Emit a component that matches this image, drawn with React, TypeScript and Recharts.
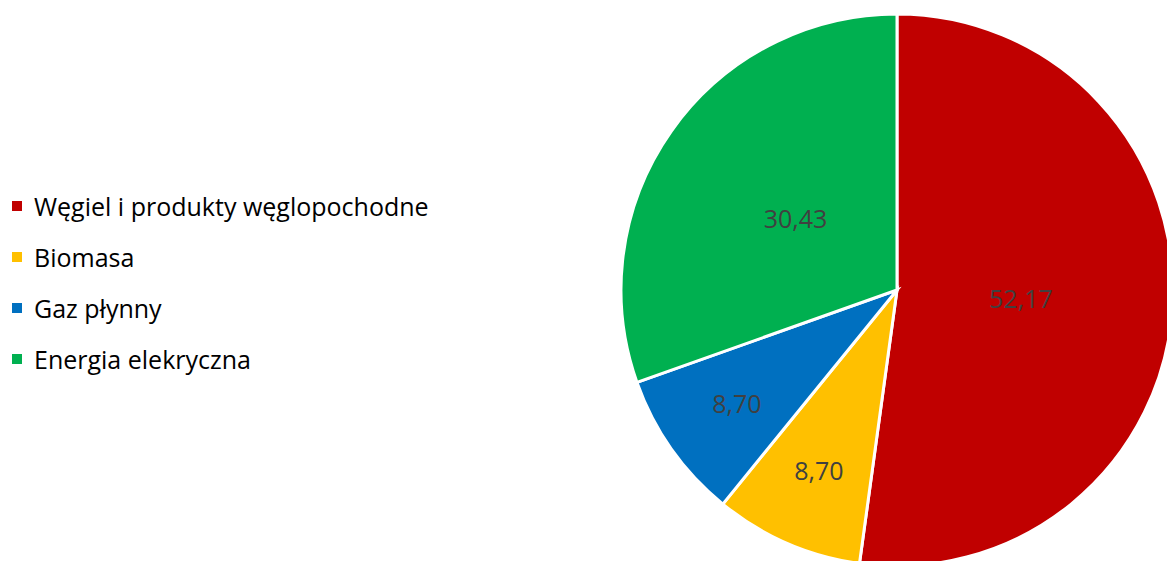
import React from "react";
import { PieChart, Pie, Cell } from "recharts";

const categories = [
  "Węgiel i produkty węglopochodne",
  "Biomasa",
  "Gaz płynny",
  "Energia elekryczna",
];
const values = [52.17, 8.7, 8.7, 30.43];
const colors = ["#C00000", "#FFC000", "#0070C0", "#00B050"];

const data = categories.map((name, i) => ({ name, value: values[i] }));

const FONT = "'Open Sans', sans-serif";
const RAD = Math.PI / 180;

const renderLabel = (props: any) => {
  const { cx, cy, midAngle, outerRadius, percent, value } = props;
  const f = percent < 0.15 ? 0.71 : 0.45;
  const r = outerRadius * f;
  const x = cx + r * Math.cos(-midAngle * RAD);
  const y = cy + r * Math.sin(-midAngle * RAD);
  return (
    <text
      x={x}
      y={y}
      fill="#404040"
      textAnchor="middle"
      dominantBaseline="central"
      fontFamily={FONT}
      fontSize={25}
    >
      {value.toFixed(2).replace(".", ",")}
    </text>
  );
};

function ChartLegend() {
  return (
    <div
      style={{
        position: "absolute",
        left: 12,
        top: 180,
        fontFamily: FONT,
        fontSize: 25,
        color: "#000",
      }}
    >
      {categories.map((name, i) => (
        <div
          key={name}
          style={{ display: "flex", alignItems: "center", height: 51 }}
        >
          <span
            style={{
              display: "inline-block",
              width: 10,
              height: 10,
              background: colors[i],
              marginRight: 12,
            }}
          />
          <span>{name}</span>
        </div>
      ))}
    </div>
  );
}

export default function App() {
  return (
    <div
      style={{
        position: "fixed",
        left: 0,
        top: 0,
        width: 1167,
        height: 561,
        background: "#fff",
      }}
    >
      <PieChart
        width={1167}
        height={561}
        margin={{ top: 0, right: 0, bottom: 0, left: 0 }}
      >
        <Pie
          data={data}
          dataKey="value"
          nameKey="name"
          cx={897}
          cy={290}
          outerRadius={276}
          startAngle={90}
          endAngle={-270}
          stroke="#fff"
          strokeWidth={3}
          label={renderLabel}
          labelLine={false}
          isAnimationActive={false}
        >
          {data.map((d, i) => (
            <Cell key={d.name} fill={colors[i]} />
          ))}
        </Pie>
      </PieChart>
      <ChartLegend />
    </div>
  );
}
